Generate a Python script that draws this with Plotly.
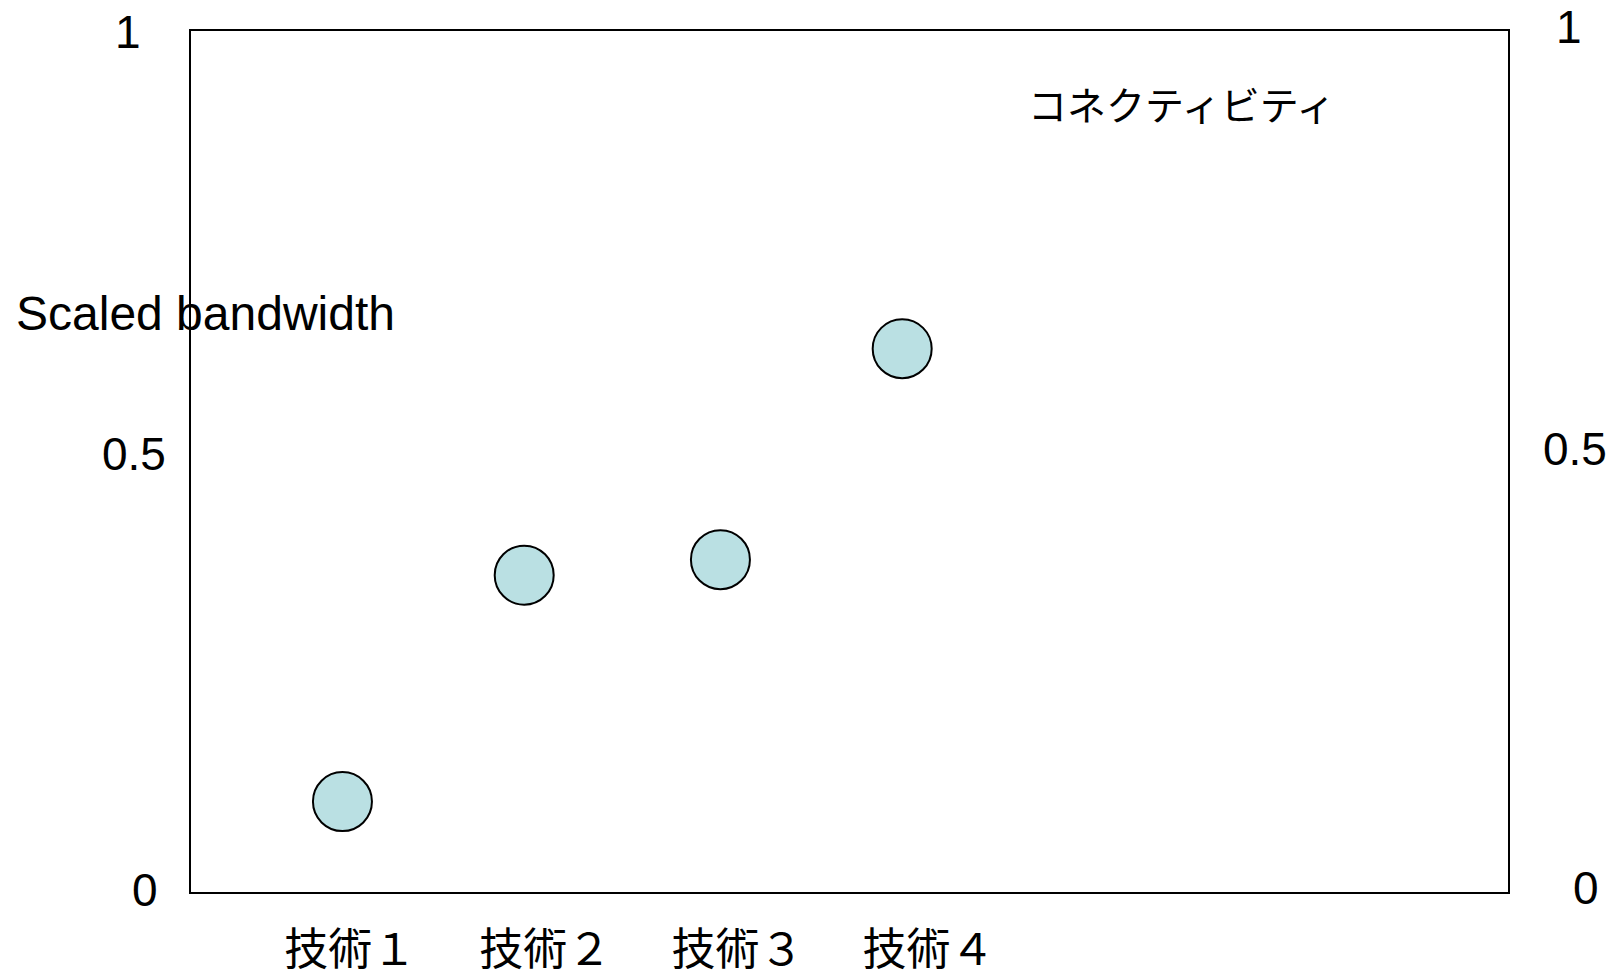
import plotly.graph_objects as go

# ---- data ----
categories = ["技術１", "技術２", "技術３", "技術４"]
scaled_bandwidth = [0.105, 0.368, 0.386, 0.631]
x_values = [1.15, 2.53, 4.02, 5.40]
label_positions = [1.21, 2.69, 4.15, 5.60]
y_ticks = [0, 0.5, 1]
y_tick_text = ["0", "0.5", "1"]
y_title = "Scaled bandwidth"
series_label = "コネクティビティ"

W, H = 1619, 979
L, T = 191, 31
R = W - 1508
B = H - 892
pw, ph = W - L - R, H - T - B

def px_x(px):
    return (px - L) / pw

def px_y(py):
    return (H - B - py) / ph

fig = go.Figure()
fig.add_trace(go.Scatter(
    x=x_values, y=scaled_bandwidth, mode="markers",
    marker=dict(size=59, color="#BAE0E3", line=dict(color="black", width=2)),
    showlegend=False, hoverinfo="skip"))

cjk = "Noto Sans CJK JP"
lat = "Liberation Sans"

fig.update_layout(
    width=W, height=H, margin=dict(l=L, r=R, t=T, b=B, autoexpand=False),
    paper_bgcolor="white", plot_bgcolor="white",
    xaxis=dict(range=[0, 10], showgrid=False, zeroline=False, automargin=False,
               showline=True, mirror=True, linecolor="black", linewidth=2,
               tickmode="array", tickvals=label_positions, ticktext=categories,
               ticks="", tickfont=dict(family=cjk, size=44, color="black"),
               ticklabelstandoff=18),
    yaxis=dict(range=[0, 1], showgrid=False, zeroline=False, automargin=False,
               showline=True, mirror=True, linecolor="black", linewidth=2,
               showticklabels=False, ticks=""),
)

# left tick labels (centre x in px, vertical shift)
for v, t, cx, dy in zip(y_ticks, y_tick_text, [144.5, 134, 127.5], [2, 7.5, -1]):
    fig.add_annotation(x=px_x(cx), xref="paper", y=v, yref="y", text=t,
                       showarrow=False, xanchor="center", yanchor="middle", yshift=dy,
                       font=dict(family=lat, size=46, color="black"))
# right tick labels
for v, t, cx, dy in zip(y_ticks, y_tick_text, [1585.5, 1575, 1569], [4, 13, 4]):
    fig.add_annotation(x=px_x(cx), xref="paper", y=v, yref="y", text=t,
                       showarrow=False, xanchor="center", yanchor="middle", yshift=dy,
                       font=dict(family=lat, size=46, color="black"))

fig.add_annotation(x=px_x(14), xref="paper", y=px_y(313), yref="paper",
                   text=y_title, showarrow=False, xanchor="left", yanchor="middle",
                   font=dict(family=lat, size=48, color="black"))
fig.add_annotation(x=px_x(1026), xref="paper", y=px_y(103), yref="paper",
                   text=series_label, showarrow=False, xanchor="left", yanchor="middle",
                   font=dict(family=cjk, size=39, color="black"))

fig.write_html("out.html", config={"displayModeBar": False},
               post_script="document.body.style.margin='0';document.body.style.overflow='hidden';")
